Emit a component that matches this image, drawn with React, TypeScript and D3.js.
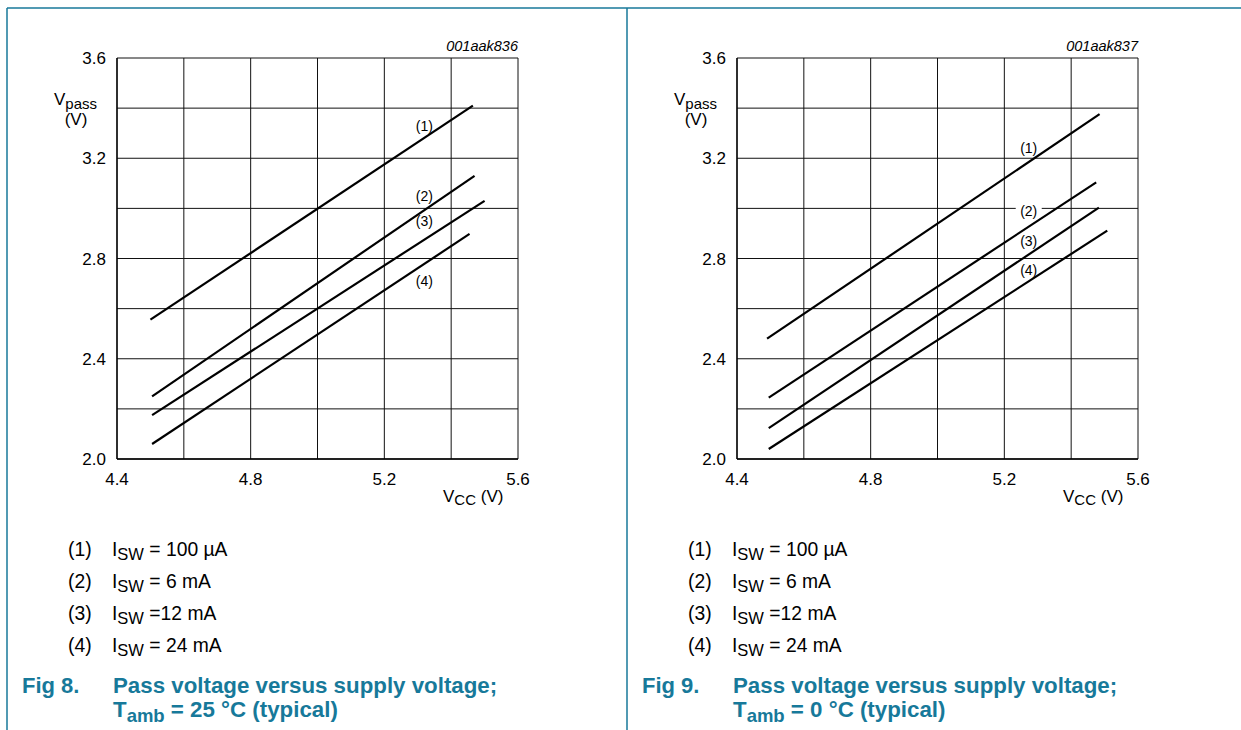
import React from 'react';
import * as d3 from 'd3';

// ---------- data ----------
const xTickValues = [4.4, 4.8, 5.2, 5.6];
const xGridValues = [4.4, 4.6, 4.8, 5.0, 5.2, 5.4, 5.6];
const yTickValues = [2.0, 2.4, 2.8, 3.2, 3.6];
const yGridValues = [2.0, 2.2, 2.4, 2.6, 2.8, 3.0, 3.2, 3.4, 3.6];

const curveNames = ['(1)', '(2)', '(3)', '(4)'];
const legendCurrents = ['= 100 \u00B5A', '= 6 mA', '=12 mA', '= 24 mA'];

// Fig 8 (Tamb = 25 °C): [Vcc, Vpass] end points
const fig8I100uA: [number, number][] = [[4.5, 2.556], [5.465, 3.41]];
const fig8I6mA: [number, number][] = [[4.505, 2.25], [5.47, 3.13]];
const fig8I12mA: [number, number][] = [[4.505, 2.175], [5.5, 3.03]];
const fig8I24mA: [number, number][] = [[4.505, 2.06], [5.455, 2.898]];
const fig8LabelPos: [number, number][] = [[5.32, 3.33], [5.32, 3.05], [5.32, 2.95], [5.32, 2.71]];

// Fig 9 (Tamb = 0 °C)
const fig9I100uA: [number, number][] = [[4.49, 2.48], [5.485, 3.376]];
const fig9I6mA: [number, number][] = [[4.495, 2.245], [5.475, 3.104]];
const fig9I12mA: [number, number][] = [[4.495, 2.123], [5.483, 3.003]];
const fig9I24mA: [number, number][] = [[4.495, 2.04], [5.508, 2.911]];
const fig9LabelPos: [number, number][] = [[5.273, 3.241], [5.273, 2.991], [5.273, 2.87], [5.273, 2.756]];

const TEAL = '#17799a';
const FONT = "'Liberation Sans', Arial, Helvetica, sans-serif";

type PanelProps = {
  ox: number;
  code: string;
  series: [number, number][][];
  labels: [number, number][];
  figNo: string;
  temp: string;
};

function Panel({ ox, code, series, labels, figNo, temp }: PanelProps) {
  const x0 = 117 + ox;
  const x1 = 518 + ox;
  const yTop = 58;
  const yBot = 459;
  const x = d3.scaleLinear().domain([4.4, 5.6]).range([x0, x1]);
  const y = d3.scaleLinear().domain([2.0, 3.6]).range([yBot, yTop]);
  const line = d3
    .line<[number, number]>()
    .x((d) => x(d[0]))
    .y((d) => y(d[1]));

  return (
    <g fontFamily={FONT}>
      {/* grid */}
      {xGridValues.map((v) => (
        <line key={'gx' + v} x1={x(v)} x2={x(v)} y1={yTop} y2={yBot} stroke="#111" strokeWidth={1} />
      ))}
      {yGridValues.map((v) => (
        <line key={'gy' + v} x1={x0} x2={x1} y1={y(v)} y2={y(v)} stroke="#111" strokeWidth={1} />
      ))}
      {/* axes */}
      <line x1={x0} x2={x0} y1={yTop} y2={yBot} stroke="#000" strokeWidth={1.3} />
      <line x1={x0} x2={x1} y1={yBot} y2={yBot} stroke="#000" strokeWidth={1.3} />
      {/* label knock-outs */}
      {labels.map((p, i) => (
        <rect key={'r' + i} x={x(p[0]) - 13} y={y(p[1]) - 6} width={26} height={12} fill="#fff" />
      ))}
      {/* curves */}
      {series.map((s, i) => (
        <path key={'s' + i} d={line(s) || ''} fill="none" stroke="#000" strokeWidth={2.2} />
      ))}
      {/* curve labels */}
      {labels.map((p, i) => (
        <text key={'l' + i} x={x(p[0])} y={y(p[1]) + 5} fontSize={14} textAnchor="middle" fill="#000">
          {curveNames[i]}
        </text>
      ))}
      {/* tick labels */}
      {xTickValues.map((v) => (
        <text key={'tx' + v} x={x(v)} y={485} fontSize={17} textAnchor="middle" fill="#000">
          {v.toFixed(1)}
        </text>
      ))}
      {yTickValues.map((v) => (
        <text key={'ty' + v} x={x0 - 11} y={y(v) + 6} fontSize={17} textAnchor="end" fill="#000">
          {v.toFixed(1)}
        </text>
      ))}
      {/* figure code */}
      <text x={x1} y={51} fontSize={14.5} fontStyle="italic" textAnchor="end" fill="#000">
        {code}
      </text>
      {/* axis titles */}
      <text x={54 + ox} y={105} fontSize={17} fill="#000">
        V<tspan dy={4} fontSize={15}>pass</tspan>
      </text>
      <text x={76 + ox} y={125} fontSize={17} textAnchor="middle" fill="#000">
        (V)
      </text>
      <text x={443 + ox} y={502} fontSize={17} fill="#000">
        V<tspan dy={3} fontSize={15}>CC</tspan>
        <tspan dy={-3}> (V)</tspan>
      </text>
      {/* legend */}
      {curveNames.map((n, i) => (
        <g key={'lg' + i}>
          <text x={68 + ox} y={556 + i * 32} fontSize={19.3} fill="#000">
            {n}
          </text>
          <text x={112 + ox} y={556 + i * 32} fontSize={19.3} fill="#000">
            I<tspan dy={4} fontSize={16.5}>SW</tspan>
            <tspan dy={-4}> {legendCurrents[i]}</tspan>
          </text>
        </g>
      ))}
      {/* caption */}
      <text x={22 + ox} y={693} fontSize={22} fontWeight="bold" fill={TEAL}>
        {figNo}
      </text>
      <text x={113 + ox} y={693} fontSize={22.3} fontWeight="bold" fill={TEAL}>
        Pass voltage versus supply voltage;
      </text>
      <text x={113 + ox} y={717} fontSize={22.3} fontWeight="bold" fill={TEAL}>
        T<tspan dy={5} fontSize={18.5}>amb</tspan>
        <tspan dy={-5}> = {temp} {'\u00B0'}C (typical)</tspan>
      </text>
    </g>
  );
}

export default function App() {
  return (
    <svg
      width={1241}
      height={730}
      style={{ position: 'absolute', left: 0, top: 0, background: '#fff' }}
    >
      <rect x={0} y={0} width={1241} height={730} fill="#fff" />
      {/* frame */}
      <line x1={7} x2={1241} y1={8} y2={8} stroke={TEAL} strokeWidth={1.5} />
      <line x1={7} x2={7} y1={8} y2={730} stroke={TEAL} strokeWidth={1.5} />
      <line x1={627} x2={627} y1={8} y2={730} stroke={TEAL} strokeWidth={1.5} />
      <Panel
        ox={0}
        code="001aak836"
        series={[fig8I100uA, fig8I6mA, fig8I12mA, fig8I24mA]}
        labels={fig8LabelPos}
        figNo="Fig 8."
        temp="25"
      />
      <Panel
        ox={620}
        code="001aak837"
        series={[fig9I100uA, fig9I6mA, fig9I12mA, fig9I24mA]}
        labels={fig9LabelPos}
        figNo="Fig 9."
        temp="0"
      />
    </svg>
  );
}
